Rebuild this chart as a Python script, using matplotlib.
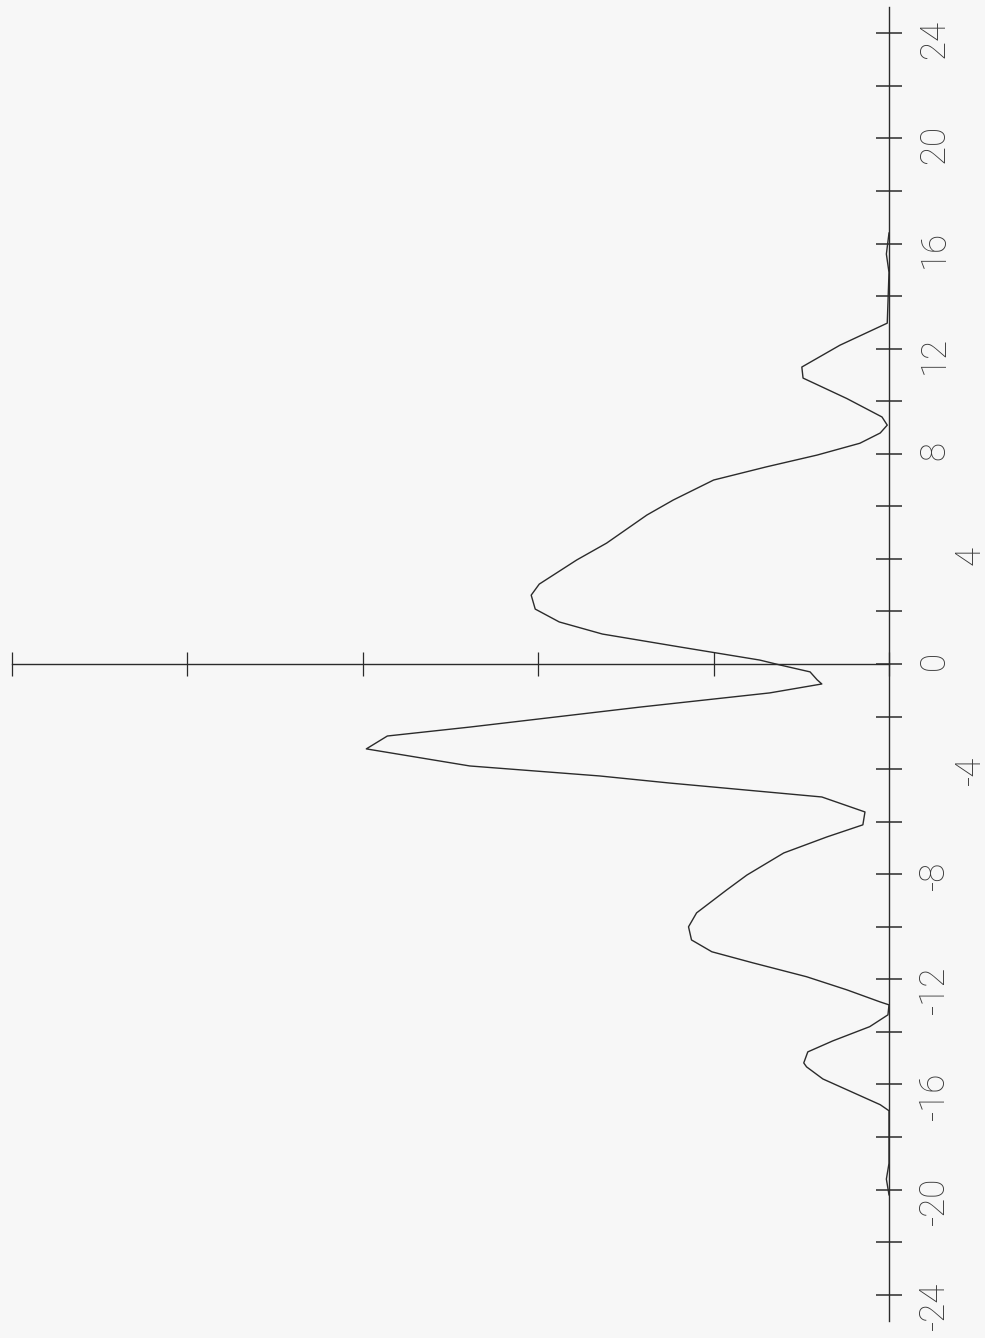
import matplotlib
matplotlib.use("Agg")
import matplotlib.pyplot as plt
import matplotlib.transforms as mtransforms

# sampled response curve: position along the scan axis and its amplitude
position = [-20.2, -19.6, -19.0, -17.0, -16.77, -15.79, -15.33, -15.18, -14.76,
            -14.34, -13.8, -13.35, -12.97, -12.86, -12.4, -11.9, -11.37, -10.95,
            -10.5, -10.0, -9.47, -8.6, -8.03, -7.19, -6.58, -6.12, -5.63, -5.06,
            -4.53, -4.26, -3.88, -3.23, -2.74, -2.40, -1.64, -1.1, -0.76, -0.6,
            -0.3, -0.04, 0.15, 0.65, 1.14, 1.6, 2.09, 2.62, 3.04, 3.96, 4.6,
            5.67, 6.24, 7.0, 7.5, 7.95, 8.4, 8.79, 9.09, 9.4, 10.1, 10.88, 11.3,
            12.13, 12.97, 14.9, 15.6, 16.4]
response = [0.0, 0.015, 0.0, 0.0, 0.05, 0.377, 0.47, 0.486, 0.463,
            0.32, 0.11, 0.006, 0.0, 0.05, 0.24, 0.47, 0.777, 1.01,
            1.126, 1.143, 1.097, 0.926, 0.81, 0.60, 0.354, 0.149, 0.137, 0.383,
            1.25, 1.65, 2.39, 2.98, 2.86, 2.39, 1.42, 0.68, 0.383, 0.41,
            0.45, 0.62, 0.737, 1.194, 1.634, 1.88, 2.017, 2.04, 1.994, 1.78, 1.61,
            1.38, 1.23, 1.0, 0.70, 0.41, 0.166, 0.05, 0.01, 0.04, 0.24, 0.49, 0.497,
            0.28, 0.01, 0.0, 0.015, 0.0]

labelled_ticks = list(range(-24, 25, 4))
plain_ticks = list(range(-22, 23, 4))
level_ticks = [0, 1, 2, 3, 4, 5]

ink = "#2b2b2b"
plt.rcParams["axes.unicode_minus"] = False

fig = plt.figure(figsize=(9.85, 13.38), dpi=100)
fig.patch.set_facecolor("#f7f7f7")
ax = fig.add_axes([12 / 985, 17 / 1338, 877 / 985, 1314 / 1338])
ax.set_facecolor("none")

# curve drawn sideways: amplitude grows to the left, position runs upward
ax.plot(response, position, color=ink, linewidth=1.0, clip_on=False)

ax.set_xlim(5, 0)
ax.set_ylim(-25, 25)

ax.spines["top"].set_visible(False)
ax.spines["left"].set_visible(False)
ax.spines["right"].set_color(ink)
ax.spines["right"].set_linewidth(1.0)
ax.spines["bottom"].set_position(("data", 0))
ax.spines["bottom"].set_color(ink)
ax.spines["bottom"].set_linewidth(1.0)

ax.yaxis.tick_right()
ax.set_yticks(labelled_ticks)
ax.set_yticks(plain_ticks, minor=True)
ax.set_yticklabels([str(t) for t in labelled_ticks])
ax.tick_params(axis="y", which="both", direction="inout", length=19, width=1.1,
               color=ink, labelcolor="#3a3a3a", labelsize=25, pad=11,
               labelrotation=90)

ax.set_xticks(level_ticks)
ax.tick_params(axis="x", direction="inout", length=17, width=0.9, color=ink,
               labelbottom=False)

for lab in ax.get_yticklabels():
    lab.set_fontfamily(["Roboto", "DejaVu Sans"])
    lab.set_fontweight("light")

# the single-digit 4 labels sit further out from the axis
shift = mtransforms.ScaledTranslation(0.36, 0, fig.dpi_scale_trans)
for tick in ax.yaxis.get_major_ticks():
    if abs(tick.get_loc()) == 4:
        tick.label2.set_transform(tick.label2.get_transform() + shift)

fig.savefig("out.png", dpi=100, facecolor=fig.get_facecolor())
